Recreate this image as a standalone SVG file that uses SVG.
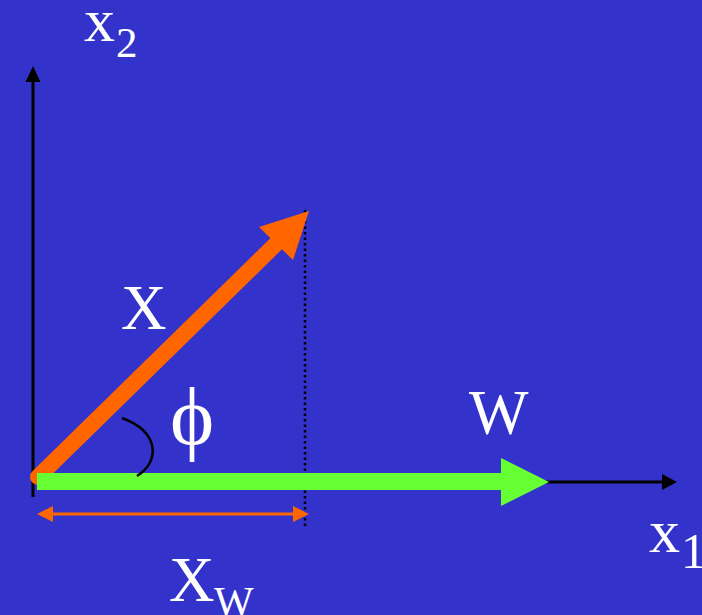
<svg xmlns="http://www.w3.org/2000/svg" width="702" height="615" viewBox="0 0 702 615">
<style>
.t{font-family:"Liberation Serif","Times New Roman",serif;fill:#ffffff}
.axis{stroke:#000;stroke-width:3;fill:none}
</style>
<rect width="702" height="615" fill="#3333cc"/>
<g id="connectors">
  <g id="axis-x2">
    <line class="axis" x1="33" y1="497" x2="33" y2="80"/>
    <polygon points="33,66 25.5,82 40.5,82" fill="#000"/>
  </g>
  <g id="axis-x1">
    <line class="axis" x1="33" y1="482" x2="664" y2="482"/>
    <polygon points="677,482 662,474 662,490" fill="#000"/>
  </g>
  <g id="projection">
    <line x1="305" y1="210" x2="305" y2="526" stroke="#000" stroke-width="2.5" stroke-dasharray="2.5,3"/>
  </g>
  <g id="vector-X">
    <line x1="38" y1="477" x2="280" y2="240" stroke="#ff6600" stroke-width="16" stroke-linecap="round"/>
    <polygon points="309,211 259,227 293,260" fill="#ff6600"/>
  </g>
  <g id="vector-W">
    <rect x="37" y="473" width="466" height="17" fill="#66ff33"/>
    <polygon points="549,482 501,458 501,506" fill="#66ff33"/>
  </g>
  <g id="angle">
    <path d="M122,418 C160,432 160,462 137,476" stroke="#000" stroke-width="2.5" fill="none"/>
  </g>
  <g id="measure-Xw">
    <line x1="50" y1="514" x2="296" y2="514" stroke="#ff6600" stroke-width="3"/>
    <polygon points="37,514 53,506 53,522" fill="#ff6600"/>
    <polygon points="309,514 293,506 293,522" fill="#ff6600"/>
  </g>
</g>
<g id="label-x2"><text class="t" x="84" y="41" font-size="62">x</text><text class="t" x="116" y="57" font-size="43">2</text></g>
<g id="label-X"><text class="t" x="121" y="329" font-size="63">X</text></g>
<g id="label-W"><text class="t" x="469" y="434" font-size="63">W</text></g>
<g id="label-phi"><text class="t" transform="translate(170,444) scale(1.33,1.3)" x="0" y="0" font-size="63">ϕ</text></g>
<g id="label-Xw"><text class="t" x="169" y="601" font-size="63">X</text><text class="t" x="214" y="616" font-size="42">W</text></g>
<g id="label-x1"><text class="t" x="649" y="552" font-size="62">x</text><text class="t" x="681" y="568" font-size="50">1</text></g>
</svg>
